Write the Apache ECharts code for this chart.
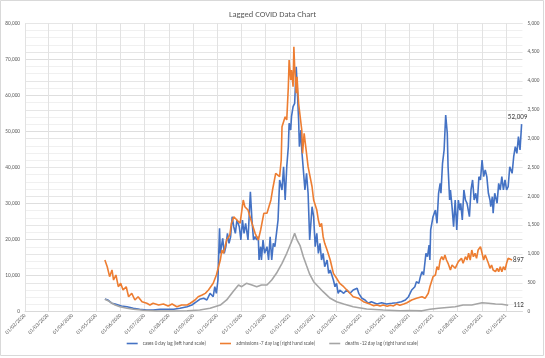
<!DOCTYPE html>
<html><head><meta charset="utf-8">
<script src="https://cdn.jsdelivr.net/npm/echarts@6/dist/echarts.min.js"></script>
<style>html,body{margin:0;padding:0;background:#fff}#c{width:545px;height:358px}</style>
</head><body><div id="c"></div>
<script>
const chartTitle = 'Lagged COVID Data Chart';
const seriesNames = ['cases 0 day lag (left hand scale)', 'admissions -7 day lag (right hand scale)', 'deaths -12 day lag (right hand scale)'];
const tickLabels = ['01/02/2020','01/03/2020','01/04/2020','01/05/2020','01/06/2020','01/07/2020','01/08/2020','01/09/2020','01/10/2020','01/11/2020','01/12/2020','01/01/2021','01/02/2021','01/03/2021','01/04/2021','01/05/2021','01/06/2021','01/07/2021','01/08/2021','01/09/2021','01/10/2021'];
const axisEndDate = '22/10/2021';
// days are counted from 01/02/2020
const casesDays = [101,105,110,114,118,122,129,137,145,154,162,171,179,188,196,205,211,217,221,226,230,234,238,240,242,244,246,247,250,252,254,256,258,260,262,264,266,268,271,273,275,277,279,282,285,287,289,291,293,295,296,298,299,301,303,306,308,310,312,314,316,318,320,322,325,327,329,331,333,334,336,337,339,341,343,344,346,347,349,350,352,354,356,358,360,363,365,367,369,371,373,375,377,379,382,384,386,390,392,394,396,398,403,407,411,415,420,422,426,430,434,438,445,451,457,464,470,476,481,485,489,493,495,498,500,502,504,507,509,511,512,513,516,519,521,523,525,526,528,530,532,534,535,537,538,540,542,544,546,548,550,551,553,555,557,559,562,564,566,568,570,572,574,576,578,580,582,584,586,588,589,591,592,594,597,599,601,603,605,607,609,611,613,616,618,620,622,624,626,628];
const casesValues = [3520,3240,2330,2140,1860,1580,1390,940,665,470,470,665,665,665,940,1390,1860,2770,3440,3720,3240,5100,4160,6930,5100,8790,23130,16190,20350,16190,18030,21740,18970,20800,26340,23570,21740,25430,23570,19880,25430,21740,24510,19880,33280,25430,19880,20800,19880,20800,14340,18030,14340,19880,16190,18030,14340,20800,14340,18970,18030,21740,25430,36520,33750,40210,30970,40210,45750,52240,50390,54070,56850,57790,67940,63340,53160,45750,50390,44840,39290,33750,38370,32830,19880,29120,26340,18030,21740,16190,18970,14340,16190,12480,14340,10650,11560,8790,6930,7870,5100,6020,5100,6020,5100,6020,6490,5100,3720,3240,2330,2770,2140,2500,2140,2330,2500,2770,3240,4160,6020,6930,8320,7870,9710,11090,10180,16190,15250,18500,14340,22660,26340,28200,24510,32830,35600,32830,41150,44840,54550,49470,40210,30970,33750,29120,23570,30970,22660,30970,28200,30060,25430,33750,30970,30060,26340,33750,36520,30970,32830,30060,37440,36520,42070,37440,39290,37440,32830,30970,29120,31890,27290,32830,30060,35600,33750,37440,33750,36520,33750,34660,40210,38370,42980,45750,43920,48530,44840,52009];
const admissionsDays = [101,104,107,110,112,115,118,121,124,128,131,135,139,143,148,154,158,162,169,175,181,186,192,198,205,209,215,219,224,228,232,238,242,247,249,251,255,259,261,264,268,272,276,278,282,287,291,295,298,302,306,311,313,317,322,324,325,329,331,333,334,336,337,339,340,341,343,344,346,348,350,351,353,355,358,363,365,369,371,373,375,377,379,382,386,388,390,394,398,403,407,411,415,422,428,436,441,445,449,453,458,462,466,470,474,479,483,489,495,502,506,510,512,514,516,519,521,523,525,527,529,531,533,535,538,540,542,544,546,548,550,552,554,557,559,561,563,565,567,569,571,573,576,577,578,580,582,584,586,588,590,592,595,597,599,601,603,605,607,609,611,613,616];
const admissionsValues = [896,780,607,723,549,636,433,492,376,433,260,319,203,260,173,146,116,146,116,133,99,133,87,116,116,146,203,260,290,318,376,492,636,896,1069,1012,1243,1329,1532,1646,1589,1532,1936,1820,1762,1532,1358,1243,1416,1705,1705,1936,2109,2398,2340,2629,3206,3379,3322,3899,4362,4015,4189,3899,4593,4246,3785,4073,3612,3379,3148,2745,3092,2860,2513,2166,1936,1762,1589,1473,1532,1300,1185,1069,896,780,665,579,492,433,376,319,260,232,173,133,105,116,98,116,95,111,100,133,110,133,156,203,232,260,232,319,433,520,607,636,780,723,896,953,896,983,896,839,723,809,839,752,780,867,839,925,839,953,896,1012,896,1069,953,1012,925,1069,1127,1156,1012,896,983,953,839,752,809,723,694,752,694,780,694,780,723,839,925,925,897];
const deathsDays = [101,105,110,114,120,129,137,150,167,188,205,221,234,247,255,263,270,274,280,287,293,299,306,312,318,325,331,337,341,344,348,352,356,360,365,371,377,386,394,403,415,432,453,474,487,502,512,523,544,554,565,578,586,595,603,611];
const deathsValues = [215,191,146,116,87,59,42,24,12,12,17,29,59,116,203,347,463,433,492,463,433,463,463,549,665,839,1012,1213,1358,1243,1140,953,800,650,520,433,347,232,173,133,87,47,29,17,20,15,42,59,87,116,116,156,146,133,128,112];

const DAY = 86400000;
function parseDMY(s) { const p = s.split('/').map(Number); return Date.UTC(p[2], p[1] - 1, p[0]); }
const origin = parseDMY(tickLabels[0]);
const tickValues = tickLabels.map(parseDMY);
const pairs = (days, vals) => days.map((d, i) => [origin + d * DAY, vals[i]]);
const pad = n => (n < 10 ? '0' : '') + n;
const fmtDate = v => { const d = new Date(v); return pad(d.getUTCDate()) + '/' + pad(d.getUTCMonth() + 1) + '/' + d.getUTCFullYear(); };
const fmtNum = v => Number(v).toLocaleString('en-US');

const FONT = 'Carlito, Lato, sans-serif';
const txt = '#595959';
const chart = echarts.init(document.getElementById('c'), null, { renderer: 'canvas' });
chart.setOption({
  animation: false,
  backgroundColor: '#fff',
  textStyle: { fontFamily: FONT },
  title: { text: chartTitle, left: 'center', top: 5, textStyle: { fontSize: 8.5, fontWeight: 'normal', color: txt, fontFamily: FONT } },
  graphic: [{ type: 'rect', shape: { x: 0.5, y: 0.5, width: 543, height: 355 }, style: { fill: 'none', stroke: '#d9d9d9', lineWidth: 1 }, silent: true }],
  legend: {
    bottom: 7, left: 'center', icon: 'rect', itemWidth: 11, itemHeight: 1.6, itemGap: 14,
    textStyle: { fontSize: 5, color: txt, fontFamily: FONT },
    data: seriesNames
  },
  grid: { left: 25, right: 22.6, top: 23.2, bottom: 46.3, containLabel: false },
  xAxis: {
    type: 'value', min: origin, max: parseDMY(axisEndDate),
    axisLine: { show: true, lineStyle: { color: '#d9d9d9' } },
    axisTick: { show: false, customValues: tickValues },
    axisLabel: { customValues: tickValues, rotate: 45, formatter: v => fmtDate(v), fontSize: 5.5, color: txt, margin: 3, hideOverlap: false, showMinLabel: true, showMaxLabel: true },
    splitLine: { show: true, lineStyle: { color: '#e2e2e2', width: 1 } }
  },
  yAxis: [
    { type: 'value', min: 0, max: 80000, interval: 10000, position: 'left',
      axisLine: { show: false }, axisTick: { show: false },
      axisLabel: { fontSize: 5.3, color: txt, margin: 5, formatter: v => fmtNum(v) },
      splitLine: { show: true, lineStyle: { color: '#dedede' } },
      minorSplitLine: { show: true, lineStyle: { color: '#f0f0f0' } }, minorTick: { show: false, splitNumber: 5 } },
    { type: 'value', min: 0, max: 5000, interval: 500, position: 'right',
      axisLine: { show: false }, axisTick: { show: false },
      axisLabel: { fontSize: 5.3, color: txt, margin: 5, formatter: v => fmtNum(v) },
      splitLine: { show: true, lineStyle: { color: '#e6e6e6' } } }
  ],
  series: [
    { name: seriesNames[0], type: 'line', yAxisIndex: 0, symbol: 'none', data: pairs(casesDays, casesValues),
      lineStyle: { color: '#4472C4', width: 1.6 }, itemStyle: { color: '#4472C4' },
      endLabel: { show: true, formatter: p => fmtNum(p.value[1]), fontSize: 7, color: '#404040', align: 'center', verticalAlign: 'bottom', distance: -4, padding: [0, 0, 3, 0] } },
    { name: seriesNames[1], type: 'line', yAxisIndex: 1, symbol: 'none', data: pairs(admissionsDays, admissionsValues),
      lineStyle: { color: '#ED7D31', width: 1.6 }, itemStyle: { color: '#ED7D31' },
      endLabel: { show: true, formatter: p => fmtNum(p.value[1]), fontSize: 7, color: '#404040', distance: 1 } },
    { name: seriesNames[2], type: 'line', yAxisIndex: 1, symbol: 'none', data: pairs(deathsDays, deathsValues),
      lineStyle: { color: '#A5A5A5', width: 1.6 }, itemStyle: { color: '#A5A5A5' },
      endLabel: { show: true, formatter: p => fmtNum(p.value[1]), fontSize: 7, color: '#404040', distance: 5 } }
  ]
});
</script></body></html>
